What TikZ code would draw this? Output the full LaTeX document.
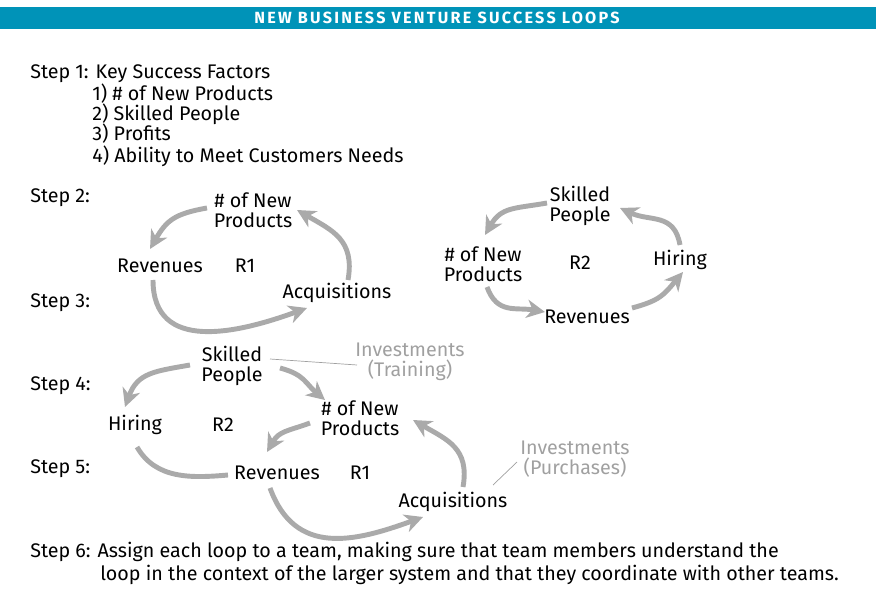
\documentclass[tikz,border=0pt]{standalone}
\usepackage{fontspec}
\setmainfont{Fira Sans}
\newfontfamily\bannerfont{Fira Sans}[LetterSpace=14]
\usetikzlibrary{arrows.meta}
\definecolor{bannerblue}{RGB}{0,147,184}
\definecolor{loopgray}{RGB}{170,170,170}
\definecolor{notegray}{RGB}{160,160,160}

\begin{document}
\begin{tikzpicture}[
    x=0.025cm,y=0.025cm,
    txt/.style={font=\fontsize{14}{14.5}\selectfont,align=center,inner sep=0pt},
    steptxt/.style={txt,anchor=west},
    note/.style={txt,text=notegray},
    loop/.style={draw=loopgray,line width=3.5pt,looseness=1.2,-{Stealth[length=13pt,width=13pt,inset=4pt]}},
    plainloop/.style={draw=loopgray,line width=3.5pt},
    thin/.style={draw=notegray,line width=0.5pt}
]
\useasboundingbox (0,0) rectangle (879,-596);
% banner
\fill[bannerblue] (0,-7) rectangle (876,-29);
\node[text=white,font=\bannerfont\bfseries\fontsize{11.5}{12}\selectfont] (title) at (437,-18) {NEW BUSINESS VENTURE SUCCESS LOOPS};

% steps
\node[steptxt] (s1) at (30,-74) {Step 1: Key Success Factors};
\node[steptxt] (f1) at (92,-94) {1) \# of New Products};
\node[steptxt] (f2) at (92,-114) {2) Skilled People};
\node[steptxt] (f3) at (92,-134) {3) Profits};
\node[steptxt] (f4) at (92,-156) {4) Ability to Meet Customers Needs};
\node[steptxt] (s2) at (30,-198) {Step 2:};
\node[steptxt] (s3) at (30,-303) {Step 3:};
\node[steptxt] (s4) at (30,-386) {Step 4:};
\node[steptxt] (s5) at (30,-469) {Step 5:};
\node[steptxt] (s6) at (30,-552) {Step 6: Assign each loop to a team, making sure that team members understand the};
\node[steptxt] (s6b) at (100,-575) {loop in the context of the larger system and that they coordinate with other teams.};

% loop R1 (steps 2-3)
\node[txt] (np1) at (253,-210) {\# of New\\Products};
\node[txt] (rev1) at (160,-266) {Revenues};
\node[txt] (r1) at (245,-266) {R1};
\node[txt] (acq1) at (337,-293) {Acquisitions};
\draw[loop] ([shift={(-46,2)}]np1.center) to[out=190,in=60] ([shift={(-10,17)}]rev1.center);
\draw[loop] ([shift={(-7,-14)}]rev1.center) to[out=270,in=200] ([shift={(-30,-15)}]acq1.center);
\draw[loop] ([shift={(11,13)}]acq1.center) to[out=80,in=-30] ([shift={(44,0)}]np1.center);

% loop R2
\node[txt] (sp2) at (580,-206) {Skilled\\People};
\node[txt] (np2) at (483,-264) {\# of New\\Products};
\node[txt] (r2) at (580,-263) {R2};
\node[txt] (hir2) at (680,-260) {Hiring};
\node[txt] (rev2) at (587,-317) {Revenues};
\draw[loop] ([shift={(-33,3)}]sp2.center) to[out=190,in=60] ([shift={(2,29)}]np2.center);
\draw[loop] ([shift={(4,-23)}]np2.center) to[out=-70,in=170] ([shift={(-42,5)}]rev2.center);
\draw[loop] ([shift={(45,9)}]rev2.center) to[out=15,in=230] ([shift={(3,-12)}]hir2.center);
\draw[loop] ([shift={(0,15)}]hir2.center) to[out=100,in=-25] ([shift={(40,-2)}]sp2.center);

% combined loops (steps 4-5)
\node[txt] (sp3) at (232,-366) {Skilled\\People};
\node[txt] (hir3) at (135,-425) {Hiring};
\node[txt] (r2b) at (223,-425) {R2};
\node[txt] (np3) at (360,-418) {\# of New\\Products};
\node[txt] (rev3) at (277,-473) {Revenues};
\node[txt] (r1b) at (360,-473) {R1};
\node[txt] (acq3) at (453,-502) {Acquisitions};
\node[note] (invT) at (410,-362) {Investments\\(Training)};
\node[note] (invP) at (575,-459) {Investments\\(Purchases)};
\draw[loop] ([shift={(-42,1)}]sp3.center) to[out=190,in=70] ([shift={(-10,18)}]hir3.center);
\draw[loop] ([shift={(48,-2)}]sp3.center) to[out=-15,in=140] ([shift={(-35,18)}]np3.center);
\draw[loop] ([shift={(-50,-5)}]np3.center) to[out=200,in=60] ([shift={(-10,21)}]rev3.center);
\draw[plainloop] ([shift={(2,-22)}]hir3.center) to[out=-60,in=185] ([shift={(-49,-2)}]rev3.center);
\draw[loop] ([shift={(-7,-15)}]rev3.center) to[out=-70,in=200] ([shift={(-30,-15)}]acq3.center);
\draw[loop] ([shift={(10,15)}]acq3.center) to[out=80,in=-30] ([shift={(53,-2)}]np3.center);
\draw[thin] ([shift={(38,7)}]sp3.center) -- ([shift={(-53,-3)}]invT.center);
\draw[thin] ([shift={(40,17)}]acq3.center) -- ([shift={(-58,-3)}]invP.center);
\end{tikzpicture}
\end{document}
